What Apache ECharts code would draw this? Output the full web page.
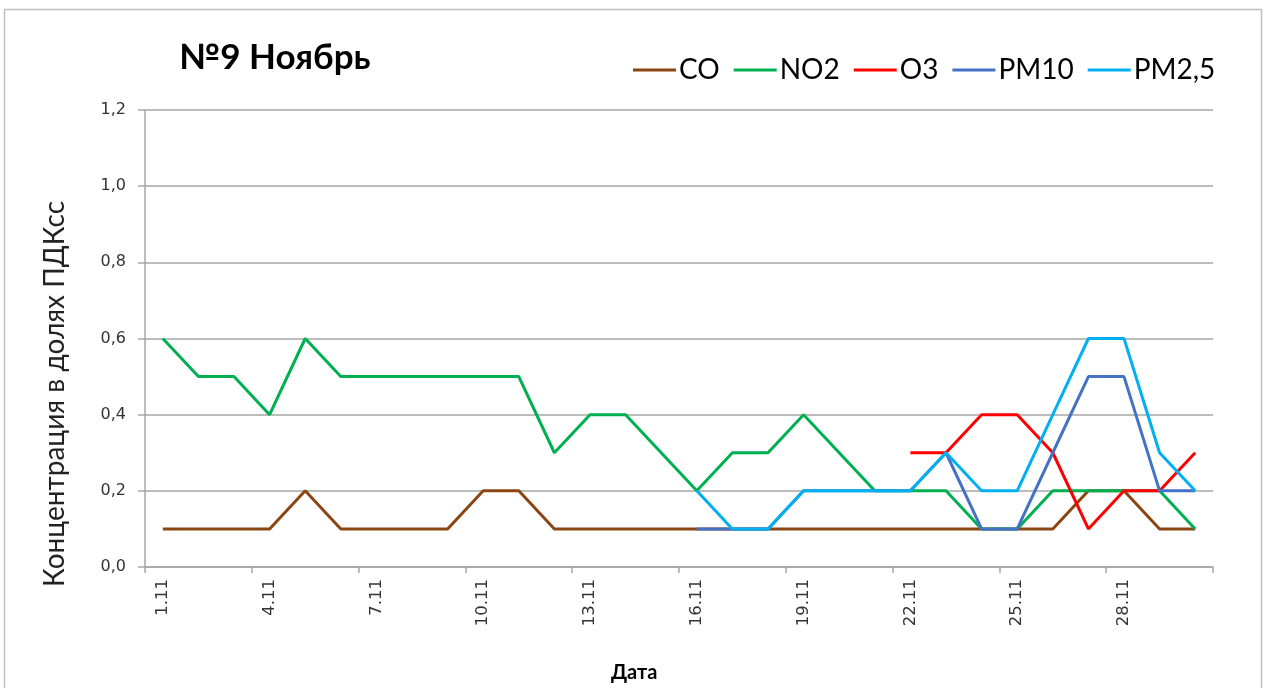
<!DOCTYPE html>
<html>
<head>
<meta charset="utf-8">
<script src="https://cdn.jsdelivr.net/npm/echarts@6/dist/echarts.min.js"></script>
<style>
  html, body { margin: 0; padding: 0; background: #fff; }
  #chart { width: 1267px; height: 688px; }
</style>
</head>
<body>
<div id="chart"></div>
<script>
// Дни ноября
const days = ['1.11','2.11','3.11','4.11','5.11','6.11','7.11','8.11','9.11','10.11',
  '11.11','12.11','13.11','14.11','15.11','16.11','17.11','18.11','19.11','20.11',
  '21.11','22.11','23.11','24.11','25.11','26.11','27.11','28.11','29.11','30.11'];

// Концентрации в долях ПДКсс
const co   = [0.1,0.1,0.1,0.1,0.2,0.1,0.1,0.1,0.1,0.2, 0.2,0.1,0.1,0.1,0.1,0.1,0.1,0.1,0.1,0.1, 0.1,0.1,0.1,0.1,0.1,0.1,0.2,0.2,0.1,0.1];
const no2  = [0.6,0.5,0.5,0.4,0.6,0.5,0.5,0.5,0.5,0.5, 0.5,0.3,0.4,0.4,0.3,0.2,0.3,0.3,0.4,0.3, 0.2,0.2,0.2,0.1,0.1,0.2,0.2,0.2,0.2,0.1];
const o3   = [null,null,null,null,null,null,null,null,null,null, null,null,null,null,null,null,null,null,null,null, null,0.3,0.3,0.4,0.4,0.3,0.1,0.2,0.2,0.3];
const pm10 = [null,null,null,null,null,null,null,null,null,null, null,null,null,null,null,0.1,0.1,0.1,0.2,0.2, 0.2,0.2,0.3,0.1,0.1,0.3,0.5,0.5,0.2,0.2];
const pm25 = [null,null,null,null,null,null,null,null,null,null, null,null,null,null,null,0.2,0.1,0.1,0.2,0.2, 0.2,0.2,0.3,0.2,0.2,0.4,0.6,0.6,0.3,0.2];

const seriesNames = ['CO','NO2','O3','PM10','PM2,5'];
const seriesData = [co, no2, o3, pm10, pm25];
const seriesColors = ['#8B4513','#00B050','#FF0000','#4472C4','#00B0F0'];

const chart = echarts.init(document.getElementById('chart'), null, { renderer: 'canvas' });

const gridColor = '#a6a6a6';

chart.setOption({
  animation: false,
  backgroundColor: '#fff',
  title: {
    text: '№9 Ноябрь',
    left: 174,
    top: 35,
    textStyle: { fontFamily: 'Lato', fontWeight: 'bold', fontSize: 35, color: '#000' }
  },
  legend: {
    left: 628,
    top: 51,
    icon: 'rect',
    itemWidth: 43,
    itemHeight: 3,
    itemGap: 14,
    textStyle: { fontFamily: 'Lato', fontSize: 28, color: '#000', padding: [0,0,0,-2] },
    data: seriesNames
  },
  grid: { left: 145, right: 54, top: 110, bottom: 121, containLabel: false },
  xAxis: {
    type: 'category',
    data: days,
    boundaryGap: true,
    axisLine: { lineStyle: { color: gridColor, width: 1.5 } },
    axisTick: { show: true, interval: 2, length: 6, lineStyle: { color: gridColor, width: 1.5 } },
    axisLabel: {
      interval: 2, rotate: 90, margin: 12,
      fontFamily: 'DejaVu Sans', fontSize: 16.5, color: '#333'
    },
    splitLine: { show: false }
  },
  yAxis: {
    type: 'value',
    min: 0, max: 1.2, interval: 0.2,
    axisLine: { show: true, lineStyle: { color: gridColor, width: 1.5 } },
    axisTick: { show: true, length: 7, lineStyle: { color: gridColor, width: 1.5 } },
    axisLabel: {
      margin: 19,
      fontFamily: 'DejaVu Sans', fontSize: 16, color: '#333',
      formatter: v => v.toFixed(1).replace('.', ',')
    },
    splitLine: { lineStyle: { color: gridColor, width: 1.5 } }
  },
  graphic: [
    {
      type: 'rect',
      shape: { x: 4.5, y: 9.5, width: 1257, height: 700 },
      style: { fill: 'none', stroke: '#bfbfbf', lineWidth: 1.5 },
      silent: true
    },
    {
      // подпись оси значений
      type: 'text',
      x: 55, y: 394,
      rotation: Math.PI / 2,
      style: {
        text: 'Концентрация в долях ПДКсс',
        fontFamily: 'Lato', fontSize: 28, fill: '#222',
        align: 'center', verticalAlign: 'middle'
      }
    },
    {
      type: 'text',
      left: 611, top: 663,
      style: { text: 'Дата', fontFamily: 'Lato', fontWeight: 'bold', fontSize: 20, fill: '#000' }
    }
  ],
  series: seriesNames.map((name, i) => ({
    name: name,
    type: 'line',
    data: seriesData[i],
    showSymbol: false,
    symbol: 'none',
    connectNulls: false,
    lineStyle: { color: seriesColors[i], width: 3 },
    itemStyle: { color: seriesColors[i] },
    z: 2 + i
  }))
});
</script>
</body>
</html>
